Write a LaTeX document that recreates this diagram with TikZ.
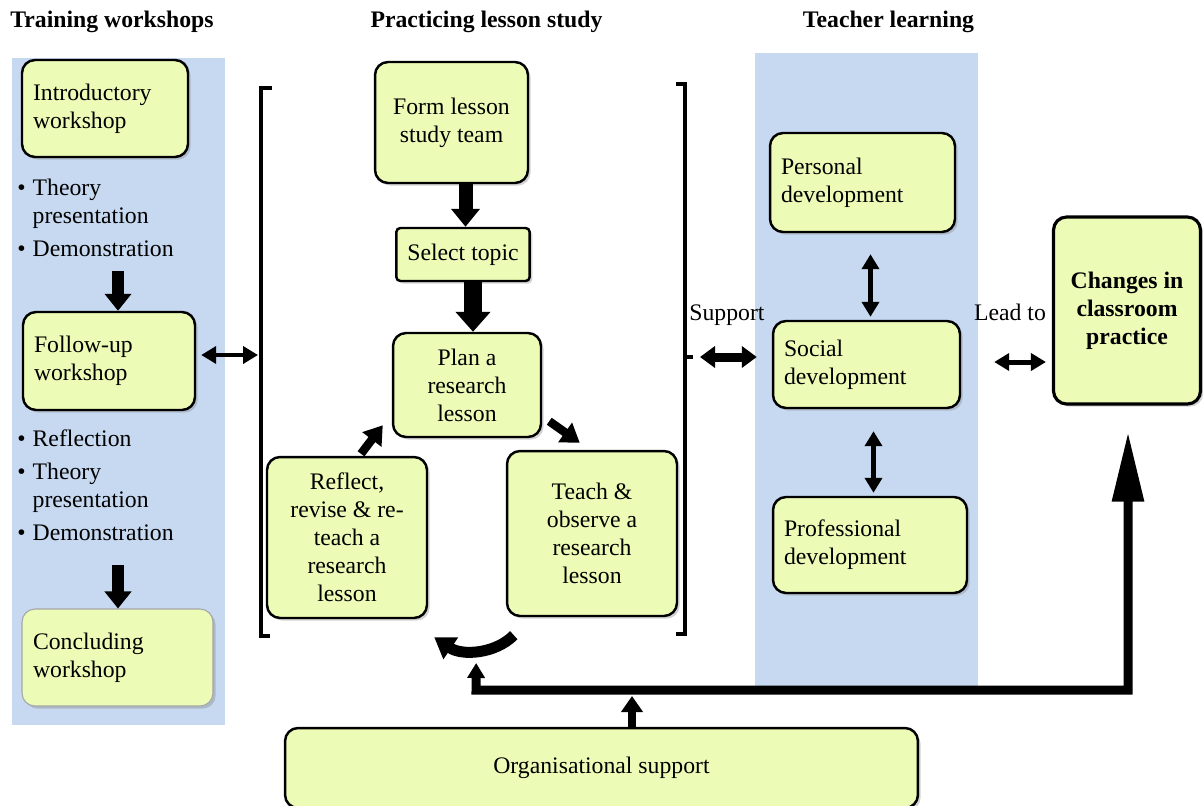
\documentclass[tikz,border=0pt]{standalone}
\usepackage{fontspec}
\setmainfont{Liberation Serif}
\usetikzlibrary{positioning, calc, arrows.meta, shadows}

\begin{document}
\begin{tikzpicture}[x=0.02cm,y=-0.02cm]
\definecolor{panelblue}{RGB}{198,217,240};
\definecolor{boxgreen}{RGB}{236,251,182};
\useasboundingbox (0,0) rectangle (1203,805);
\tikzstyle{every node}=[font=\fontsize{13.5}{15.9}\selectfont];
\tikzstyle{stagebox}=[draw, line width=1.4pt, rounded corners=0.26cm, fill=boxgreen, inner sep=0.22cm, drop shadow={shadow xshift=1.5pt, shadow yshift=-1.5pt, opacity=0.35}];
\tikzstyle{leftbox}=[stagebox, align=left];
\tikzstyle{midbox}=[stagebox, align=center];
\tikzstyle{blockdown}=[line width=0.24cm, -{Triangle[width=0.52cm,length=0.34cm]}];
\tikzstyle{dblarrow}=[line width=0.1cm, {Triangle[width=0.34cm,length=0.3cm]}-{Triangle[width=0.34cm,length=0.3cm]}];
\tikzstyle{looparrow}=[line width=0.17cm, -{Triangle[width=0.46cm,length=0.36cm]}];
\fill[panelblue] (12,58) rectangle (225,725);
\fill[panelblue] (755,53) rectangle (978,688);
\node (ttrain) at (112,22) {\bfseries Training workshops};
\node (tpract) at (486.5,22) {\bfseries Practicing lesson study};
\node (tteach) at (888.5,22) {\bfseries Teacher learning};
\node[leftbox, minimum width=3.32cm, minimum height=1.94cm, text width=2.88cm] (intro) at (105,108.5) {Introductory\\workshop};
\node[leftbox, minimum width=3.44cm, minimum height=1.96cm, text width=3cm] (follow) at (109,361) {Follow-up\\workshop};
\node[leftbox, draw=gray!70, line width=0.6pt, minimum width=3.82cm, minimum height=1.94cm, text width=3.38cm] (conc) at (117.5,657.5) {Concluding\\workshop};
\node[anchor=north west, inner sep=0] (bulone) at (17,175.5) {\begin{tabular}{@{}l@{\hspace{4pt}}l@{}}\textbullet & Theory\\ & presentation\\[3pt] \textbullet & Demonstration\end{tabular}};
\node[anchor=north west, inner sep=0] (bultwo) at (17,426.5) {\begin{tabular}{@{}l@{\hspace{4pt}}l@{}}\textbullet & Reflection\\[3pt] \textbullet & Theory\\ & presentation\\[3pt] \textbullet & Demonstration\end{tabular}};
\coordinate (downa) at (118,271);
\coordinate (downb) at (118,565);
\draw[blockdown] (downa) -- (downa |- follow.north);
\draw[blockdown] (downb) -- (downb |- conc.north);
\node[midbox, minimum width=3.06cm, minimum height=2.42cm] (form) at (451.5,122.5) {Form lesson\\study team};
\node[midbox, rounded corners=0.08cm, minimum width=2.6cm, minimum height=1.06cm] (sel) at (463,254.5) {Select topic};
\node[midbox, minimum width=2.96cm, minimum height=2.08cm] (plan) at (467,385) {Plan a\\research\\lesson};
\node[midbox, minimum width=3.2cm, minimum height=3.22cm] (reflect) at (347,537.5) {Reflect,\\revise \& re-\\teach a\\research\\lesson};
\node[midbox, minimum width=3.4cm, minimum height=3.3cm] (teach) at (592,533.5) {Teach \&\\observe a\\research\\lesson};
\draw[line width=2.4pt] (272,88) -- (261,88) -- (261,636) -- (270,636);
\draw[line width=2.4pt] (676,84) -- (685,84) -- (685,634) -- (676,634);
\draw[line width=2.4pt] (685,357) -- (693,357);
\coordinate (lbr) at (258,355);
\coordinate (rbr) at (693,357);
\draw[line width=0.28cm, -{Triangle[width=0.56cm,length=0.36cm]}] ([xshift=0.28cm]form.south) -- ([xshift=0.28cm]form.south |- sel.north);
\draw[line width=0.36cm, -{Triangle[width=0.68cm,length=0.4cm]}] ([xshift=0.2cm]sel.south) -- ([xshift=0.2cm]sel.south |- plan.north);
\draw[looparrow] ($(reflect.north)+(14,-2)$) -- ($(plan.south west)+(-9,-13)$);
\draw[looparrow] ($(plan.south east)+(7,-17)$) -- ($(teach.north west)+(74,-7)$);
\draw[line width=0.22cm, -{Triangle[width=0.5cm,length=0.4cm]}] ($(teach.south west)+(8,18)$) .. controls (495,654) and (462,656) .. ($(reflect.south east)+(6,18)$);
\draw[dblarrow, line width=0.09cm, shorten <=0.1cm] (follow.east |- lbr) -- (lbr);
\node[leftbox, minimum width=3.7cm, minimum height=1.98cm, text width=3.26cm] (personal) at (862.5,182.5) {Personal\\development};
\node[leftbox, minimum width=3.74cm, minimum height=1.74cm, text width=3.3cm] (social) at (866.5,364.5) {Social\\development};
\node[leftbox, minimum width=3.88cm, minimum height=1.92cm, text width=3.44cm] (prof) at (870,545) {Professional\\development};
\node[midbox, line width=1.8pt, minimum width=2.94cm, minimum height=3.74cm] (changes) at (1127,310.5) {\bfseries Changes in\\\bfseries classroom\\\bfseries practice};
\node (support) at (727,315) {Support};
\node (leadto) at (1010,312) {Lead to};
\draw[dblarrow, line width=0.18cm, {Triangle[width=0.42cm,length=0.3cm]}-{Triangle[width=0.42cm,length=0.3cm]}, shorten <=0.14cm, shorten >=0.3cm] (rbr) -- (social.west |- rbr);
\draw[dblarrow, shorten <=0.42cm, shorten >=0.06cm] ([xshift=0.16cm]personal.south) -- ([xshift=0.16cm]personal.south |- social.north);
\draw[dblarrow, shorten <=0.44cm, shorten >=0.06cm] ([xshift=0.14cm]social.south) -- ([xshift=0.14cm]social.south |- prof.north);
\draw[dblarrow, shorten <=0.66cm, shorten >=0.12cm] ([yshift=0.05cm]social.east) -- ([yshift=0.05cm]social.east -| changes.west);
\node[midbox, minimum width=12.66cm, minimum height=1.6cm] (org) at (601.5,768) {Organisational support};
\coordinate (barl) at (476,690);
\coordinate (barr) at (1128,690);
\coordinate (barm) at (632,696);
\draw[line width=0.18cm, line join=miter, {Triangle[width=0.34cm,length=0.3cm]}-{Triangle[width=0.6cm,length=1.4cm]}, shorten <=0.52cm, shorten >=0.52cm] ($(reflect.south east)!0.62!(teach.south west)+(0,0)$) ++(0,19) -- (barl) -- (barr) -- (barr |- changes.south);
\draw[line width=0.16cm, -{Triangle[width=0.42cm,length=0.32cm]}] (org.north -| barm) -- (barm);
\end{tikzpicture}
\end{document}
